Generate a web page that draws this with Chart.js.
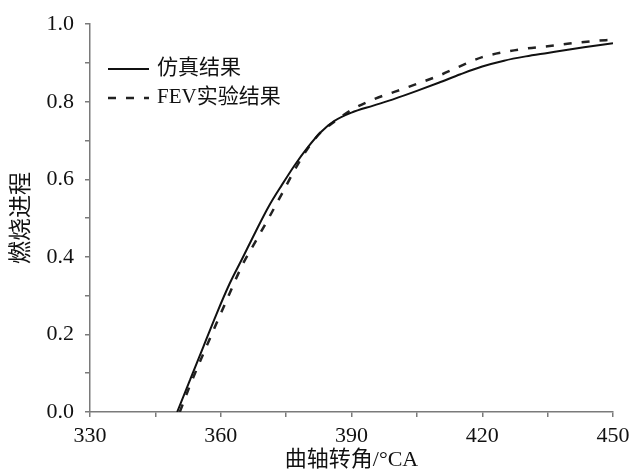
<!DOCTYPE html>
<html>
<head>
<meta charset="utf-8">
<script src="https://cdn.jsdelivr.net/npm/chart.js@4/dist/chart.umd.min.js"></script>
<style>
html,body{margin:0;padding:0;background:#fff;}
#wrap{width:636px;height:471px;}
</style>
</head>
<body>
<div id="wrap"><canvas id="c" width="636" height="471"></canvas></div>
<script>
// ---- data ----
const simAngle = [350, 353, 356, 359, 362, 365, 368, 371, 374, 377, 380, 383, 386, 390, 395, 400, 405, 410, 415, 420, 425, 430, 435, 440, 445, 450];
const simValue = [0, 0.084, 0.168, 0.252, 0.33, 0.397, 0.465, 0.53, 0.585, 0.637, 0.683, 0.722, 0.75, 0.772, 0.79, 0.808, 0.828, 0.849, 0.871, 0.891, 0.906, 0.917, 0.926, 0.935, 0.943, 0.951];
const fevAngle = [350.6, 353, 356, 359, 362, 365, 368, 371, 374, 377, 380, 383, 386, 390, 395, 400, 405, 410, 415, 420, 425, 430, 435, 440, 445, 450];
const fevValue = [0, 0.07, 0.15, 0.228, 0.305, 0.38, 0.44, 0.5, 0.562, 0.625, 0.68, 0.722, 0.748, 0.779, 0.806, 0.826, 0.846, 0.867, 0.892, 0.915, 0.928, 0.937, 0.943, 0.95, 0.956, 0.96];
const seriesNames = ['仿真结果', 'FEV实验结果'];
const xTitle = '曲轴转角/°CA';
const yTitle = '燃烧进程';

const FONT = "'Liberation Serif', 'Noto Sans CJK SC', serif";
const AXIS = '#7a7a7a';

const toXY = (xs, ys) => xs.map((x, i) => ({x: x, y: ys[i]}));

const legendPlugin = {
  id: 'inLegend',
  afterDraw(chart) {
    const ctx = chart.ctx;
    const items = [
      {y: 69, ty: 68, ds: chart.data.datasets[0]},
      {y: 98, ty: 97, ds: chart.data.datasets[1]}
    ];
    ctx.save();
    items.forEach(it => {
      ctx.beginPath();
      ctx.setLineDash(it.ds.borderDash || []);
      ctx.lineWidth = it.ds.borderWidth;
      ctx.strokeStyle = it.ds.borderColor;
      ctx.moveTo(108, it.y);
      ctx.lineTo(149, it.y);
      ctx.stroke();
      ctx.setLineDash([]);
      ctx.fillStyle = '#111';
      ctx.font = '21px ' + FONT;
      ctx.textBaseline = 'middle';
      ctx.textAlign = 'left';
      ctx.fillText(it.ds.label, 157, it.ty);
    });
    ctx.restore();
  }
};

new Chart(document.getElementById('c'), {
  type: 'line',
  data: {
    datasets: [
      {label: seriesNames[0], data: toXY(simAngle, simValue), borderColor: '#111', borderWidth: 2, pointRadius: 0, cubicInterpolationMode: 'monotone', fill: false},
      {label: seriesNames[1], data: toXY(fevAngle, fevValue), borderColor: '#222', borderWidth: 2.5, borderDash: [8, 10], pointRadius: 0, cubicInterpolationMode: 'monotone', fill: false}
    ]
  },
  options: {
    responsive: false,
    animation: false,
    layout: {padding: {left: 0, right: 23, top: 20, bottom: 0}},
    plugins: {legend: {display: false}, tooltip: {enabled: false}},
    scales: {
      x: {
        type: 'linear', min: 330, max: 450,
        border: {color: AXIS, width: 1.5},
        grid: {drawOnChartArea: false, color: AXIS, tickLength: 5, lineWidth: 1.5},
        ticks: {
          stepSize: 15, autoSkip: false, maxRotation: 0, padding: 6, color: '#111',
          font: {family: FONT, size: 22},
          callback: v => (v % 30 === 0 ? String(v) : '')
        },
        title: {display: true, text: xTitle, color: '#111', font: {family: FONT, size: 22, lineHeight: 1}, padding: {top: 0, bottom: 0}},
        afterFit: s => { s.height = 59; }
      },
      y: {
        type: 'linear', min: 0, max: 1,
        border: {color: AXIS, width: 1.5},
        grid: {drawOnChartArea: false, color: AXIS, tickLength: 5, lineWidth: 1.5},
        ticks: {
          stepSize: 0.1, autoSkip: false, padding: 11, color: '#111',
          font: {family: FONT, size: 22},
          callback: v => { const k = Math.round(v * 10); return k % 2 === 0 ? (k / 10).toFixed(1) : ''; }
        },
        title: {display: true, text: yTitle, color: '#111', font: {family: FONT, size: 23, lineHeight: 1}, padding: {top: 10, bottom: 0}},
        afterFit: s => { s.width = 90; }
      }
    }
  },
  plugins: [legendPlugin]
});
</script>
</body>
</html>
